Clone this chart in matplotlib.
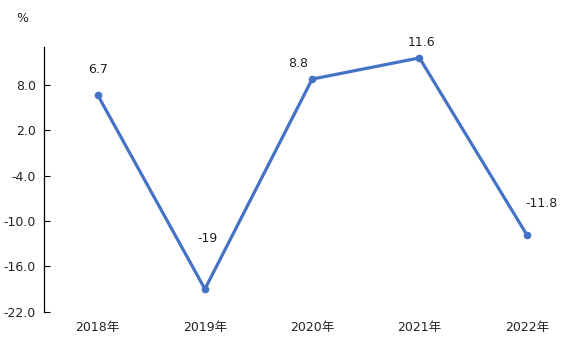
import matplotlib
matplotlib.use("Agg")
import matplotlib.pyplot as plt

plt.rcParams['font.family'] = ['DejaVu Sans', 'Noto Sans CJK SC']

# data
years = ['2018年', '2019年', '2020年', '2021年', '2022年']
values = [6.7, -19, 8.8, 11.6, -11.8]
value_labels = ['6.7', '-19', '8.8', '11.6', '-11.8']
y_ticks = [8.0, 2.0, -4.0, -10.0, -16.0, -22.0]
# label offsets in pixels (dx, dy)
label_offsets = [(0, 25), (3, 51), (-14, 16), (2, 15), (15, 31)]

fig = plt.figure(figsize=(5.83, 3.44), dpi=100)
ax = fig.add_axes([0.0755, 0.0939, 0.92, 0.770])

x = range(len(years))
ax.plot(x, values, color='#4472C4', lw=2.3, marker='o', ms=4.5, solid_capstyle='round')

for i, (v, lab) in enumerate(zip(values, value_labels)):
    dx, dy = label_offsets[i]
    ax.annotate(lab, (i, v), xytext=(dx, dy), textcoords='offset pixels',
                ha='center', va='center', fontsize=9, color='#222222')

ax.set_xlim(-0.5, 4.5)
ax.set_ylim(-22, 13.07)
ax.set_yticks(y_ticks)
ax.set_yticklabels([f'{t:.1f}' for t in y_ticks], fontsize=9, color='#222222')
ax.set_xticks(list(x))
ax.set_xticklabels(years, fontsize=9, color='#222222')
ax.tick_params(axis='x', length=0, pad=7)
ax.tick_params(axis='y', direction='in', length=4, width=0.8, pad=6)

for s in ['top', 'right', 'bottom']:
    ax.spines[s].set_visible(False)
ax.spines['left'].set_linewidth(0.9)

fig.text(22 / 583, 1 - 18 / 344, '%', fontsize=9, ha='center', va='center', color='#222222')

fig.savefig('out.png', dpi=100)
